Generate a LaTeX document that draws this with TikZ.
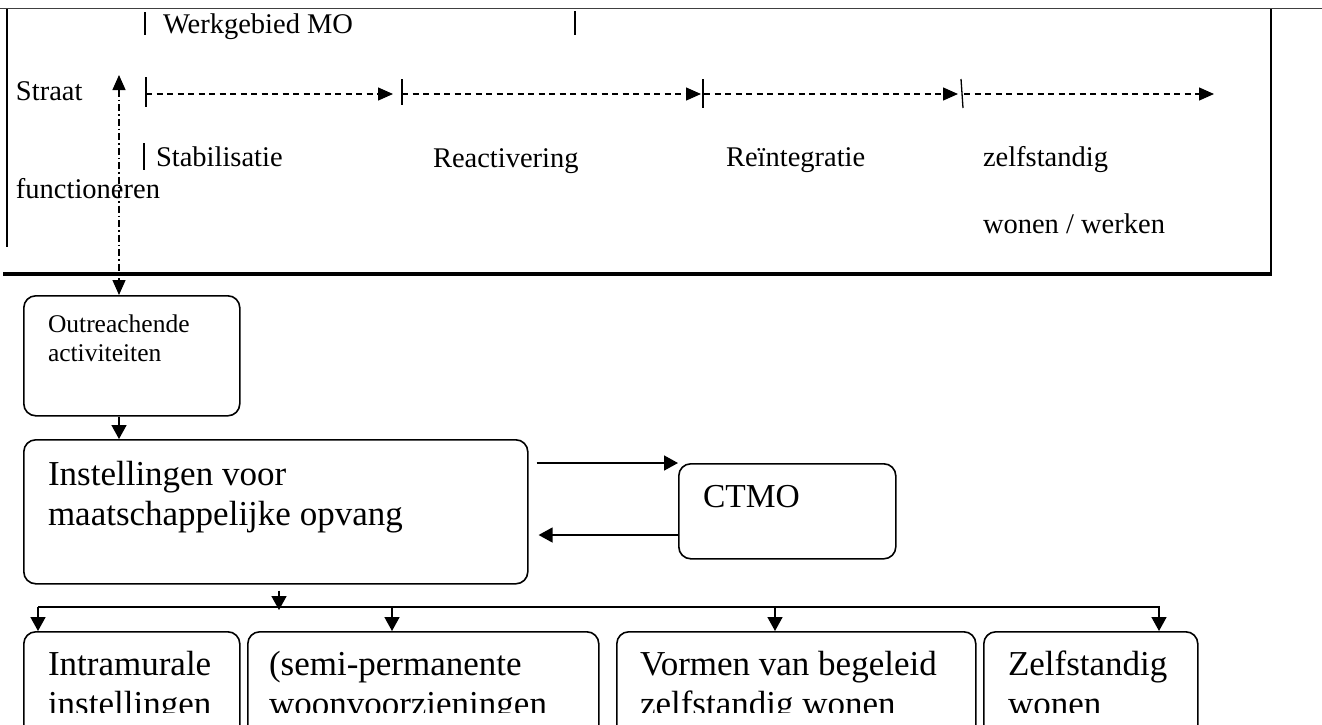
\documentclass[tikz,border=0pt]{standalone}
\usepackage{fontspec}
\setmainfont{Liberation Serif}
\usetikzlibrary{arrows.meta}
\tikzset{
  box/.style={draw, line width=1.6pt, rounded corners=12pt, inner sep=0pt, anchor=north west},
  conn/.style={line width=1.6pt, -{Triangle[length=14pt,width=15pt]}},
  lbl/.style={anchor=base west, inner sep=0pt, outer sep=0pt},
  med/.style={font=\fontsize{28.5}{33}\selectfont},
  big/.style={font=\fontsize{35}{40}\selectfont},
  sml/.style={font=\fontsize{25.5}{29}\selectfont},
  dasharrow/.style={line width=1.3pt, dash pattern=on 6pt off 4.5pt, -{Triangle[length=15pt,width=13pt]}},
  dotdash/.style={line width=1.3pt, dash pattern=on 7pt off 3pt on 1.5pt off 3pt,
    {Triangle[length=15pt,width=13pt]}-{Triangle[length=15pt,width=13pt]}},
  tickline/.style={line width=1.3pt},
}
\begin{document}
\begin{tikzpicture}[x=1pt,y=-1pt]
\clip (0,0) rectangle (1322,724);
\fill[white] (0,0) rectangle (1322,724);
% frame of the top panel
\draw[line width=1.2pt, black!75] (0,8.5) -- (1322,8.5);
\draw[line width=1.4pt] (7,9) -- (7,247);
\draw[line width=2.6pt] (1271,9) -- (1271,275);
\draw[line width=3.4pt] (3,274) -- (1272.3,274);
% Werkgebied MO
\draw[tickline] (145,12) -- (145,35);
\node[lbl, med] (werk) at (163,33) {Werkgebied MO};
\draw[tickline] (575,11) -- (575,35);
% labels
\node[lbl, med] (straat) at (16,100) {Straat};
\node[lbl, med] (func) at (16,198) {functioneren};
\draw[tickline] (144,143) -- (144,170);
\node[lbl, med] (stab) at (156,166) {Stabilisatie};
\node[lbl, med] (react) at (433,167) {Reactivering};
\node[lbl, med] (reint) at (726,166) {Reïntegratie};
\node[lbl, med] (zelf) at (983,166) {zelfstandig};
\node[lbl, med] (wonen) at (983,233) {wonen / werken};
% dashed phase arrows
\coordinate (t1) at (146,94);
\coordinate (e1) at (393,94);
\coordinate (t2) at (402,94);
\coordinate (e2) at (701,94);
\coordinate (t3) at (704,94);
\coordinate (e3) at (958,94);
\coordinate (t4) at (964,94);
\coordinate (e4) at (1214,94);
\draw[tickline] (146,77) -- (146,107);
\draw[tickline] (402,79) -- (402,105);
\draw[tickline] (703,79) -- (703,108);
\draw[tickline] (961,79) -- (963,108);
\draw[dasharrow] (t1) -- (e1);
\draw[dasharrow] (t2) -- (e2);
\draw[dasharrow] (t3) -- (e3);
\draw[dasharrow] (t4) -- (e4);
% boxes
\node[box, minimum width=216pt, minimum height=120pt] (outreach) at (23,295) {};
\node[lbl, sml] (outt1) at (48,332) {Outreachende};
\node[lbl, sml] (outt2) at (48,361) {activiteiten};
\node[box, minimum width=504pt, minimum height=144pt] (inst) at (23,439) {};
\node[lbl, big] (inst1) at (48,485) {Instellingen voor};
\node[lbl, big] (inst2) at (48,525) {maatschappelijke opvang};
\node[box, minimum width=217pt, minimum height=95pt] (ctmo) at (678,463) {};
\node[lbl, font=\fontsize{33.5}{38}\selectfont] (ctmot) at (703,507) {CTMO};
% street arrow
\coordinate (sttop) at (119,75);
\draw[dotdash] (sttop) -- (sttop |- outreach.north);
% connectors
\draw[conn] (outreach.south -| sttop) -- (inst.north -| sttop);
\draw[conn] ([xshift=8pt]inst.east |- ctmo.north) -- (ctmo.north west);
\draw[conn] (ctmo.west |- 0,535) -- ([xshift=10pt]inst.east |- 0,535);
% bottom boxes
\node[box, minimum width=216pt, minimum height=130pt] (b1) at (23,631) {};
\node[box, minimum width=351pt, minimum height=130pt] (b2) at (247,631) {};
\node[box, minimum width=359pt, minimum height=130pt] (b3) at (616,631) {};
\node[box, minimum width=214pt, minimum height=130pt] (b4) at (983,631) {};
\coordinate (bus) at (279,607);
\draw[conn] ([yshift=-6pt]inst.south -| bus) -- ([yshift=-3pt]bus);
\draw[line width=1.6pt] (38,607) -- (1160,607);
\draw[conn] (38,607) -- (b1.north -| 38,0);
\draw[conn] (392,607) -- (b2.north -| 392,0);
\draw[conn] (775,607) -- (b3.north -| 775,0);
\draw[conn] (1159,607) -- (b4.north -| 1159,0);
\node[lbl, big] (b1a) at (48,675) {Intramurale};
\node[lbl, big] (b2a) at (269,675) {(semi-permanente};
\node[lbl, big] (b3a) at (640,675) {Vormen van begeleid};
\node[lbl, big] (b4a) at (1008,675) {Zelfstandig};
\begin{scope}
\clip (0,0) rectangle (1322,712);
\node[lbl, big] (b1b) at (48,715) {instellingen};
\node[lbl, big] (b2b) at (269,715) {woonvoorzieningen};
\node[lbl, big] (b3b) at (640,715) {zelfstandig wonen};
\node[lbl, big] (b4b) at (1008,715) {wonen};
\end{scope}
\end{tikzpicture}
\end{document}
